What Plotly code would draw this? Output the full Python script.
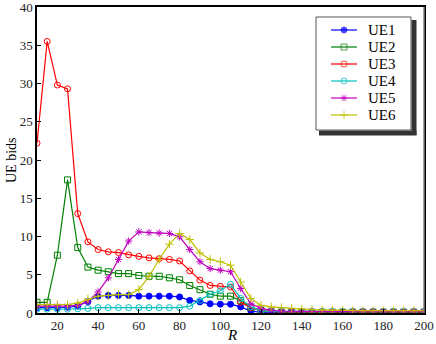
import plotly.graph_objects as go

# R values (x axis)
R = [10, 15, 20, 25, 30, 35, 40, 45, 50, 55, 60, 65, 70, 75, 80, 85, 90, 95, 100, 105,
     110, 115, 120, 125, 130, 135, 140, 145, 150, 155, 160, 165, 170, 175, 180, 185,
     190, 195, 200]

ue1 = [0.7, 0.7, 0.7, 0.75, 0.9, 1.5, 2.2, 2.3, 2.3, 2.3, 2.2, 2.2, 2.2, 2.2, 2.1, 1.65,
       1.45, 1.2, 1.15, 1.15, 0.8, 0.25, 0.1, 0.05, 0.05, 0.05, 0.05, 0.05, 0.05, 0.05,
       0.05, 0.05, 0.05, 0.05, 0.05, 0.05, 0.05, 0.05, 0.05]
ue2 = [1.4, 1.4, 7.55, 17.4, 8.55, 6.0, 5.6, 5.4, 5.15, 5.15, 4.9, 4.8, 4.8, 4.6, 4.35, 3.6,
       3.05, 2.45, 2.2, 2.2, 1.6, 0.7, 0.3, 0.15, 0.1, 0.1, 0.1, 0.1, 0.1, 0.1,
       0.1, 0.1, 0.1, 0.1, 0.1, 0.1, 0.1, 0.1, 0.1]
ue3 = [22.2, 35.5, 29.8, 29.3, 13.0, 9.3, 8.3, 8.0, 7.9, 7.6, 7.4, 7.2, 7.1, 7.0, 6.8, 5.5,
       4.3, 3.6, 3.5, 3.4, 1.4, 0.7, 0.35, 0.2, 0.15, 0.15, 0.15, 0.15, 0.15, 0.15,
       0.15, 0.15, 0.15, 0.15, 0.15, 0.15, 0.15, 0.15, 0.15]
ue4 = [0.5, 0.5, 0.5, 0.5, 0.55, 0.6, 0.7, 0.7, 0.7, 0.7, 0.7, 0.7, 0.7, 0.7, 0.7, 0.9,
       1.65, 2.45, 2.9, 3.75, 1.9, 0.8, 0.3, 0.2, 0.2, 0.2, 0.2, 0.2, 0.2, 0.2,
       0.2, 0.2, 0.2, 0.2, 0.2, 0.2, 0.2, 0.2, 0.2]
ue5 = [0.9, 0.9, 0.9, 0.9, 1.0, 1.5, 2.75, 4.6, 7.0, 9.4, 10.6, 10.5, 10.45, 10.4, 9.95, 8.3,
       6.7, 5.8, 5.6, 5.4, 3.2, 1.2, 0.6, 0.35, 0.25, 0.2, 0.2, 0.2, 0.2, 0.2,
       0.2, 0.2, 0.2, 0.2, 0.2, 0.2, 0.2, 0.2, 0.2]
ue6 = [1.1, 1.1, 1.1, 1.1, 1.3, 1.8, 2.2, 2.3, 2.4, 2.4, 3.05, 4.8, 7.0, 9.0, 10.4, 9.6,
       7.85, 7.0, 6.7, 6.25, 4.05, 1.9, 1.0, 0.8, 0.7, 0.6, 0.5, 0.45, 0.4, 0.35,
       0.35, 0.3, 0.3, 0.3, 0.3, 0.3, 0.3, 0.3, 0.3]

names = ["UE1", "UE2", "UE3", "UE4", "UE5", "UE6"]
series = [ue1, ue2, ue3, ue4, ue5, ue6]
colors = ["#0000ff", "#008000", "#ff0000", "#00bfbf", "#bf00bf", "#bfbf00"]
symbols = ["circle", "square-open", "circle-open", "circle-open", "asterisk-open", "cross-thin-open"]

font = "'Liberation Serif', 'DejaVu Serif', serif"

# plot area in window pixels
L, RT, T, B = 37, 424, 7, 313

fig = go.Figure()
for name, ys, col, sym in zip(names, series, colors, symbols):
    fig.add_trace(go.Scatter(
        x=R, y=ys, name=name, mode="lines+markers", showlegend=False,
        line=dict(color=col, width=1.2),
        marker=dict(symbol=sym, size=6, color=col, line=dict(color=col, width=1)),
    ))


def seg(xs, ys, col, w):
    fig.add_trace(go.Scatter(
        x=xs, y=ys, xaxis="x2", yaxis="y2", mode="lines", showlegend=False,
        hoverinfo="skip", line=dict(color=col, width=w),
    ))


# hand-drawn legend on a pixel overlay (x2/y2 map straight to window pixels)
seg([414, 414], [20, 135], "#333333", 5)   # shadow, right
seg([319, 416.5], [133, 133], "#333333", 5)  # shadow, bottom
seg([316, 411, 411, 316, 316], [17, 17, 130, 130, 17], "#555555", 1)
row_y = [30, 47, 64, 81, 98, 115]
for name, col, sym, yy in zip(names, colors, symbols, row_y):
    fig.add_trace(go.Scatter(
        x=[331, 344, 357], y=[yy, yy, yy], xaxis="x2", yaxis="y2",
        mode="lines+markers", showlegend=False, hoverinfo="skip",
        line=dict(color=col, width=1.2),
        marker=dict(symbol=sym, size=[0, 6, 0], color=col, line=dict(color=col, width=1)),
    ))
    fig.add_annotation(x=366, y=yy, xref="x2", yref="y2", text=name, showarrow=False,
                       xanchor="left", yanchor="middle",
                       font=dict(family=font, size=15, color="black"))

# axis titles (paper coords, outside the plot area)
fig.add_annotation(x=(11 - L) / (RT - L), y=(B - 160) / (B - T), xref="paper", yref="paper",
                   xanchor="center", yanchor="middle",
                   text="UE bids", textangle=-90, showarrow=False,
                   font=dict(family=font, size=14, color="black"))
fig.add_annotation(x=(232 - L) / (RT - L), y=(B - 335) / (B - T), xref="paper", yref="paper",
                   xanchor="center", yanchor="middle",
                   text="<i>R</i>", showarrow=False,
                   font=dict(family=font, size=15, color="black"))

# gray right border
fig.add_shape(type="line", xref="paper", yref="paper", x0=1, x1=1, y0=0, y1=1,
              line=dict(color="#808080", width=1.5))

fig.update_layout(
    width=436, height=344,
    margin=dict(l=L, r=436 - RT, t=T, b=344 - B),
    plot_bgcolor="white", paper_bgcolor="white",
    font=dict(family=font, size=13, color="#222222"),
    showlegend=False,
    xaxis2=dict(overlaying="x", range=[L, RT], visible=False, fixedrange=True),
    yaxis2=dict(overlaying="y", range=[B, T], visible=False, fixedrange=True),
)
fig.update_layout(
    xaxis=dict(range=[10, 200], tickvals=[20, 40, 60, 80, 100, 120, 140, 160, 180, 200],
               showgrid=False, zeroline=False, showline=True, linecolor="black",
               linewidth=1.5, mirror=True, ticks="inside", ticklen=4, tickcolor="black",
               automargin=False, tickfont=dict(size=13), ticklabeloverflow="allow"),
    yaxis=dict(range=[0, 40], dtick=5, showgrid=False, zeroline=False, showline=True,
               linecolor="black", linewidth=1.5, mirror=True, ticks="inside", ticklen=4,
               tickcolor="black", automargin=False, tickfont=dict(size=13),
               ticklabeloverflow="allow"),
)

# drop the default page margin so the figure sits at the window corner
fig.write_html("out.html", config={"displayModeBar": False},
               post_script="document.body.style.margin='0';")
